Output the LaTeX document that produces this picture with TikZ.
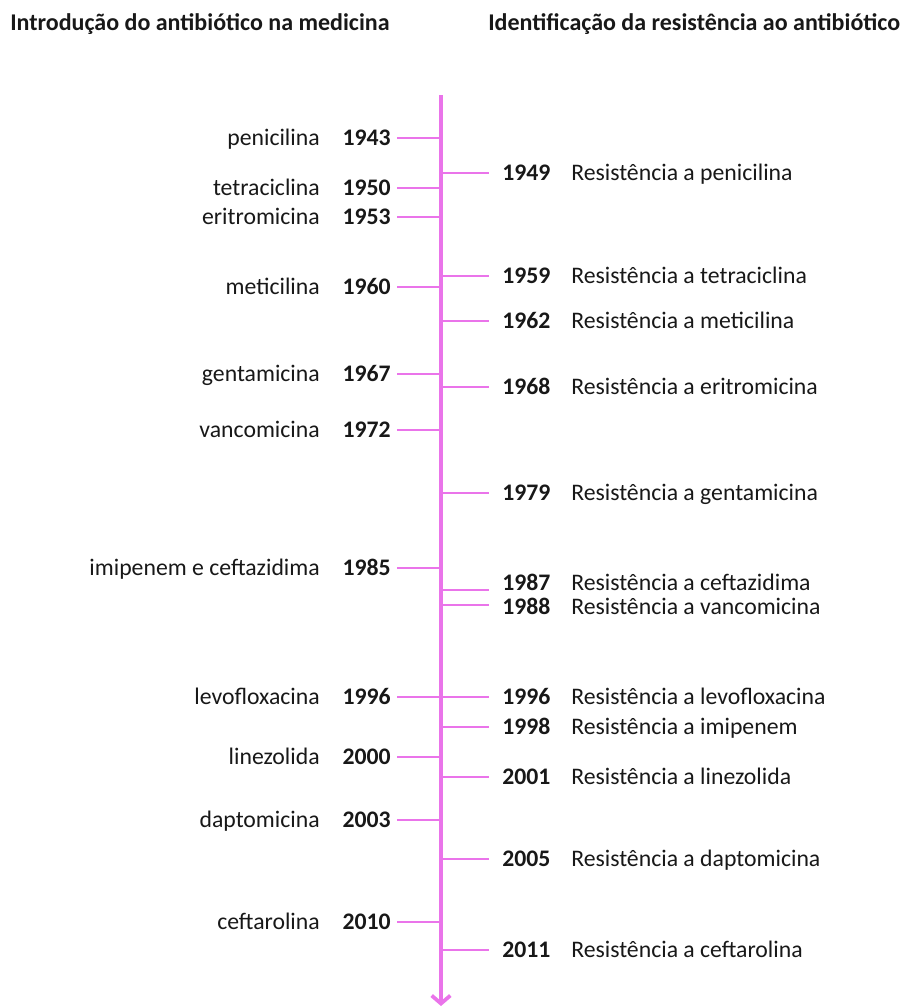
\documentclass[tikz,border=0pt]{standalone}
\usepackage{fontspec}
\setmainfont{Carlito}
\usepackage{tikz}
\usetikzlibrary{arrows.meta,positioning,calc}

\definecolor{axisviolet}{RGB}{234,116,234}
\definecolor{inkgray}{RGB}{24,24,24}

\begin{document}
\begin{tikzpicture}[x=0.75pt, y=-0.75pt, >={Straight Barb[length=6pt,width=14pt]}]
  \tikzstyle{title}=[inner sep=0, anchor=base west, font=\fontsize{18}{21}\selectfont\bfseries, text=inkgray]
  \tikzstyle{drug}=[inner sep=0, font=\fontsize{17.8}{20}\selectfont, text=inkgray]
  \tikzstyle{year}=[drug, font=\fontsize{17.8}{20}\selectfont\bfseries]
  \tikzstyle{tick}=[draw=axisviolet, line width=2.1pt]
  \useasboundingbox (0,0) rectangle (905,1007);

  % titles
  \node[title] (intro) at (10,30) {Introdução do antibiótico na medicina};
  \node[title] (ident) at (488,30) {Identificação da resistência ao antibiótico};

  % time axis
  \coordinate (top) at (441,95);
  \coordinate (bot) at (441,1006);
  \draw[->, draw=axisviolet, line width=2.8pt] (top) -- (bot);

  % introduction of the drug (left)
  \foreach \y/\drug/\yr in {138/penicilina/1943, 188/tetraciclina/1950,
      217/eritromicina/1953, 287/meticilina/1960, 374/gentamicina/1967,
      430/vancomicina/1972, 568/imipenem e ceftazidima/1985,
      697/levofloxacina/1996, 757/linezolida/2000, 820/daptomicina/2003,
      922/ceftarolina/2010} {
    \node[year, anchor=base east] (intro\yr) at (391,\y+7.5) {\yr};
    \node[drug, anchor=base east] (introname\yr) at (320,\y+7.5) {\drug};
    \coordinate (introaxis\yr) at (top |- 0,\y);
    \draw[tick] ([xshift=4.5pt]intro\yr.east |- introaxis\yr) -- (introaxis\yr);
  }

  % resistance found (right): text row / tick row may differ
  \foreach \y/\t/\drug/\yr in {173/173/penicilina/1949, 276/276/tetraciclina/1959,
      321/321/meticilina/1962, 387/387/eritromicina/1968, 493/493/gentamicina/1979,
      583/590/ceftazidima/1987, 607/605/vancomicina/1988, 697/697/levofloxacina/1996,
      727/727/imipenem/1998, 777/777/linezolida/2001, 859/859/daptomicina/2005,
      950/950/ceftarolina/2011} {
    \node[year, anchor=base west] (res\yr) at (502,\y+7.5) {\yr};
    \node[drug, anchor=base west] (resname\yr) at (571,\y+7.5) {Resistência a \drug};
    \coordinate (resaxis\yr) at (top |- 0,\t);
    \draw[tick] (resaxis\yr) -- ([xshift=-9.5pt]res\yr.west |- resaxis\yr);
  }
\end{tikzpicture}
\end{document}
